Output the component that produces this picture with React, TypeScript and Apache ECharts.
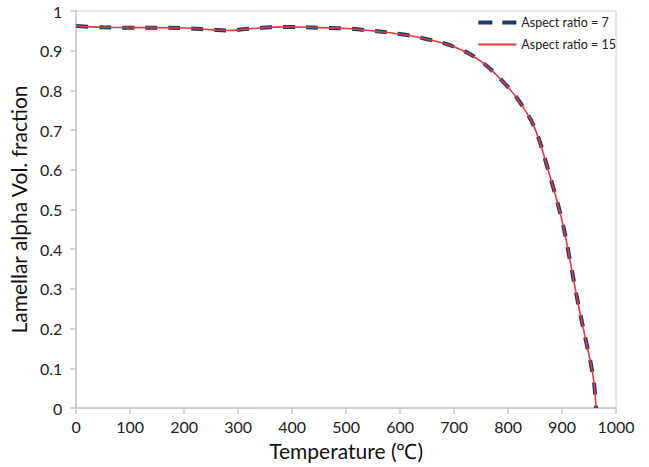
import React, { useEffect, useRef } from "react";
import * as echarts from "echarts";

const temperature = [0, 50, 100, 150, 200, 250, 280, 320, 360, 400, 450, 500, 550, 600, 650, 700, 750, 800, 825, 850, 875, 900, 915, 930, 945, 955, 960, 963];
const fractionAR7 = [0.962, 0.959, 0.958, 0.958, 0.957, 0.953, 0.951, 0.955, 0.959, 0.96, 0.958, 0.956, 0.95, 0.942, 0.929, 0.91, 0.873, 0.808, 0.764, 0.703, 0.596, 0.472, 0.37, 0.262, 0.165, 0.1, 0.055, 0.0];
const fractionAR15 = [0.962, 0.959, 0.958, 0.958, 0.957, 0.953, 0.951, 0.955, 0.959, 0.96, 0.958, 0.956, 0.95, 0.942, 0.929, 0.91, 0.873, 0.808, 0.764, 0.703, 0.596, 0.472, 0.37, 0.262, 0.165, 0.1, 0.055, 0.0];
const seriesNames = ["Aspect ratio = 7", "Aspect ratio = 15"];

const FONT = "Lato, 'Open Sans', sans-serif";

export default function App() {
  const ref = useRef<HTMLDivElement>(null);
  useEffect(() => {
    if (!ref.current) return;
    const chart = echarts.init(ref.current, null, { renderer: "svg" });
    chart.setOption({
      animation: false,
      backgroundColor: "#ffffff",
      textStyle: { fontFamily: FONT },
      grid: { left: 76, right: 33, top: 11, bottom: 59, show: true, borderColor: "#d0d0d0", borderWidth: 1 },
      legend: {
        orient: "vertical",
        right: 33,
        top: 16,
        padding: 0,
        itemWidth: 38,
        itemHeight: 14,
        itemGap: 9,
        itemStyle: { opacity: 0 },
        textStyle: { fontSize: 12.5, color: "#222", fontFamily: FONT },
        data: [
          { name: seriesNames[0], lineStyle: { width: 4, type: [14, 10], color: "#1f3a6e" } },
          { name: seriesNames[1], lineStyle: { width: 2, color: "#e33b3b" } },
        ],
      },
      xAxis: {
        type: "value",
        min: 0,
        max: 1000,
        interval: 100,
        name: "Temperature (℃)",
        nameLocation: "middle",
        nameGap: 32,
        nameTextStyle: { fontSize: 21, color: "#111", fontFamily: FONT },
        axisLine: { show: true, lineStyle: { color: "#c8c8c8", width: 1.5 } },
        axisTick: { show: true, length: 6, lineStyle: { color: "#c8c8c8", width: 1.5 } },
        axisLabel: { fontSize: 16, color: "#222", margin: 10, formatter: (v: number) => String(v) },
        splitLine: { show: false },
      },
      yAxis: {
        type: "value",
        min: 0,
        max: 1,
        interval: 0.1,
        name: "Lamellar alpha Vol. fraction",
        nameLocation: "middle",
        nameGap: 40,
        nameTextStyle: { fontSize: 21, color: "#111", fontFamily: FONT },
        axisLine: { show: true, lineStyle: { color: "#c8c8c8", width: 1.5 } },
        axisTick: { show: true, length: 6, lineStyle: { color: "#c8c8c8", width: 1.5 } },
        axisLabel: { fontSize: 16, color: "#222", margin: 14, formatter: (v: number) => String(+v.toFixed(1)) },
        splitLine: { show: false },
      },
      series: [
        {
          name: seriesNames[0],
          type: "line",
          smooth: 0.4,
          symbol: "none",
          data: temperature.map((t, i) => [t, fractionAR7[i]]),
          lineStyle: { color: "#1f3a6e", width: 4, type: [12, 11], cap: "butt" },
          itemStyle: { color: "#1f3a6e" },
          z: 2,
        },
        {
          name: seriesNames[1],
          type: "line",
          smooth: 0.4,
          symbol: "none",
          data: temperature.map((t, i) => [t, fractionAR15[i]]),
          lineStyle: { color: "#e33b3b", width: 1.6 },
          itemStyle: { color: "#e33b3b" },
          z: 3,
        },
      ],
    });
    return () => chart.dispose();
  }, []);
  return <div ref={ref} style={{ position: "fixed", left: 0, top: 0, width: 649, height: 467 }} />;
}
